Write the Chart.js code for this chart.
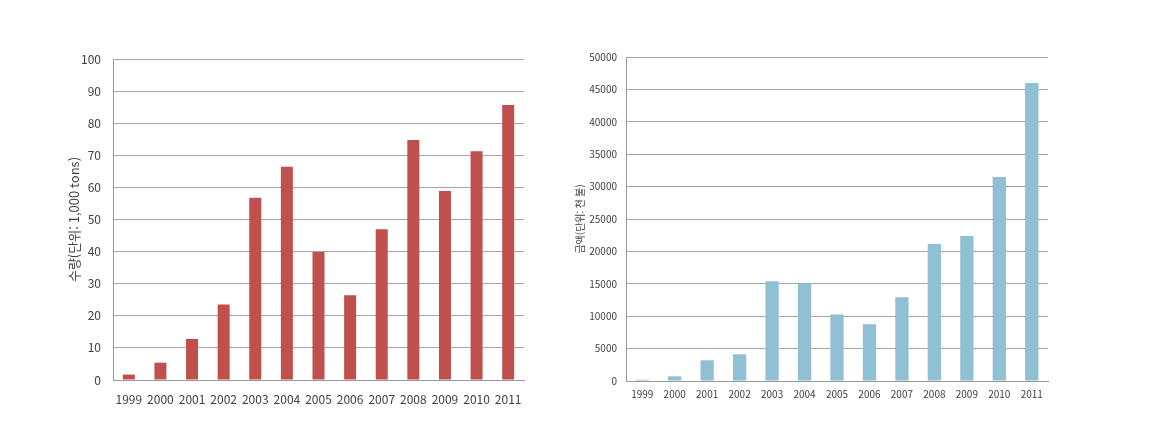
<!DOCTYPE html>
<html lang="ko">
<head>
    <meta charset="UTF-8">
    <title>수량 / 금액 1999-2011</title>
    <script src="https://cdn.jsdelivr.net/npm/chart.js"></script>
    <style>
        body {
            margin: 0;
            background: #fff;
            width: 1155px;
            height: 428px;
            position: relative;
            overflow: hidden;
        }
        .box {
            position: absolute;
            top: 0;
            height: 428px;
        }
        #leftBox { left: 0; width: 560px; }
        #rightBox { left: 560px; width: 595px; }
    </style>
</head>
<body>
    <div class="box" id="leftBox"><canvas id="qtyChart"></canvas></div>
    <div class="box" id="rightBox"><canvas id="amtChart"></canvas></div>

    <script>
        const years = ['1999', '2000', '2001', '2002', '2003', '2004', '2005', '2006', '2007', '2008', '2009', '2010', '2011'];
        // 수량 (단위: 1,000 tons)
        const quantity = [1.7, 5.4, 12.8, 23.5, 56.8, 66.4, 39.9, 26.4, 47.0, 74.8, 58.9, 71.3, 85.7];
        // 금액 (단위: 천 불)
        const amount = [200, 720, 3200, 4120, 15410, 15050, 10260, 8760, 12940, 21130, 22370, 31490, 45980];

        const fontFamily = "'Noto Sans CJK KR', 'Noto Sans', sans-serif";

        function makeChart(id, cfg) {
            return new Chart(document.getElementById(id), {
                type: 'bar',
                data: {
                    labels: years,
                    datasets: [{
                        data: cfg.values,
                        backgroundColor: cfg.color,
                        barPercentage: cfg.barPct,
                        categoryPercentage: 1
                    }]
                },
                options: {
                    responsive: true,
                    maintainAspectRatio: false,
                    animation: false,
                    layout: { padding: cfg.padding },
                    plugins: {
                        legend: { display: false },
                        tooltip: { enabled: false }
                    },
                    scales: {
                        x: {
                            grid: { display: false, drawTicks: false },
                            border: { color: '#9a9a9a', width: 1 },
                            ticks: {
                                color: cfg.tickColor,
                                font: { family: fontFamily, size: cfg.xFont },
                                padding: cfg.xPad,
                                maxRotation: 0,
                                autoSkip: false
                            },
                            afterFit: (s) => { s.height = cfg.xHeight; }
                        },
                        y: {
                            min: 0,
                            max: cfg.max,
                            grid: { color: '#a6a6a6', drawTicks: false },
                            border: { color: '#9a9a9a', width: 1 },
                            ticks: {
                                stepSize: cfg.step,
                                color: cfg.tickColor,
                                font: { family: fontFamily, size: cfg.yFont },
                                padding: cfg.yPad,
                                callback: (v) => String(v)
                            },
                            title: {
                                display: true,
                                text: cfg.title,
                                color: '#404040',
                                font: { family: fontFamily, size: cfg.titleFont },
                                padding: { top: cfg.titlePad, bottom: 0 }
                            },
                            afterFit: (s) => { s.width = cfg.yWidth; }
                        }
                    }
                }
            });
        }

        makeChart('qtyChart', {
            values: quantity,
            color: '#c0504d',
            barPct: 0.38,
            max: 100,
            step: 10,
            title: '수량(단위: 1,000 tons)',
            tickColor: '#404040',
            xFont: 12,
            yFont: 12,
            titleFont: 13,
            titlePad: 66,
            xPad: 12,
            yPad: 12,
            xHeight: 48,
            yWidth: 113,
            padding: { top: 59, right: 36, bottom: 0, left: 0 }
        });

        makeChart('amtChart', {
            values: amount,
            color: '#8fc0d3',
            barPct: 0.41,
            max: 50000,
            step: 5000,
            title: '금액(단위: 천 불)',
            tickColor: '#404040',
            xFont: 10,
            yFont: 10,
            titleFont: 10,
            titlePad: 14,
            xPad: 7,
            yPad: 9,
            xHeight: 47,
            yWidth: 66,
            padding: { top: 57, right: 107, bottom: 0, left: 0 }
        });
    </script>
</body>
</html>
